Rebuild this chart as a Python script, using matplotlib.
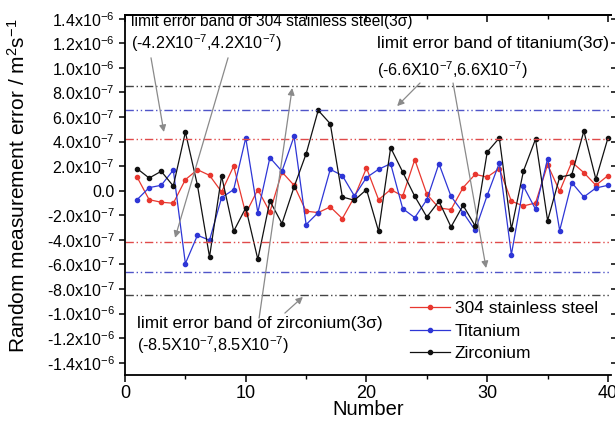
import numpy as np
import matplotlib
matplotlib.use('Agg')
import matplotlib.pyplot as plt
from matplotlib.ticker import FixedLocator, MultipleLocator, FuncFormatter, NullFormatter

plt.rcParams['font.family'] = ['Liberation Sans', 'DejaVu Sans']
plt.rcParams['mathtext.default'] = 'regular'

number = np.arange(1, 41)

# random errors, in units of 1e-7 m^2/s
steel_304 = [1.11, -0.73, -0.94, -1.02, 0.90, 1.71, 1.25, -0.10, 2.00, -1.86,
             0.09, -1.73, 1.52, 0.44, -1.67, -1.78, -1.32, -2.27, -0.51, 1.85,
             -0.73, 0.09, -0.43, 2.53, -0.29, -1.40, -1.54, 0.25, 1.33, 1.11,
             1.80, -0.86, -1.24, -1.00, 2.12, -0.05, 2.33, 1.47, 0.44, 1.23]
titanium = [-0.73, 0.25, 0.44, 1.68, -5.93, -3.63, -4.03, -0.56, 0.09, 4.29,
            -1.78, 2.69, 1.58, 4.42, -2.76, -1.78, 1.74, 1.23, -0.43, 1.07,
            1.74, 2.20, -1.46, -2.19, -0.73, 2.20, -0.46, -1.78, -3.22, -0.37,
            2.25, -5.20, 0.36, -1.51, 2.61, -3.24, 0.66, -0.51, 0.22, 0.44]
zirconium = [1.80, 1.03, 1.58, 0.38, 4.77, 0.44, -5.39, 1.20, -3.30, -1.40,
             -5.58, -0.83, -2.68, 0.30, 3.00, 6.54, 5.45, -0.51, -0.78, 0.09,
             -3.30, 3.50, 1.52, -0.46, -2.14, -0.86, -2.95, -1.19, -2.87, 3.15,
             4.29, -3.14, 1.60, 4.20, -2.43, 1.11, 1.30, 4.85, 0.93, 4.30]

# 3 sigma limit bands, 1e-7
band_304 = 4.2
band_ti = 6.6
band_zr = 8.5

labels = ['304 stainless steel', 'Titanium', 'Zirconium']
colors = ['#e8372f', '#2e36d6', '#111111']
band_colors = ['#e04a4a', '#5055c8', '#444444']

y_ticks = np.round(np.arange(-1.4, 1.41, 0.2), 1)


def fmt_tick(v, pos):
    if abs(v) < 1e-12:
        return '0.0'
    if abs(v) >= 0.999e-6:
        return '%.1fx10$^{-6}$' % (v / 1e-6)
    return '%.1fx10$^{-7}$' % (v / 1e-7)


fig = plt.figure(figsize=(6.15, 4.23), dpi=100)
ax = fig.add_axes([125 / 615, 48 / 423, 486 / 615, 360 / 423])

series = [steel_304, titanium, zirconium]
for vals, lab, c in zip(series, labels, colors):
    ax.plot(number, np.array(vals) * 1e-7, '-o', color=c, lw=0.9, ms=3,
            label=lab)

dash = (0, (6, 2, 1, 2, 1, 2))
for b, c in zip([band_304, band_ti, band_zr], band_colors):
    ax.axhline(b * 1e-7, color=c, lw=1.0, ls=dash)
    ax.axhline(-b * 1e-7, color=c, lw=1.0, ls=dash)

ax.set_xlim(0, 40.25)
ax.set_ylim(-1.5e-6, 1.43e-6)
ax.xaxis.set_major_locator(MultipleLocator(10))
ax.xaxis.set_minor_locator(MultipleLocator(5))
ax.yaxis.set_major_locator(FixedLocator(y_ticks * 1e-6))
ax.yaxis.set_major_formatter(FuncFormatter(fmt_tick))

ax.spines['right'].set_visible(False)
for s in ['left', 'bottom', 'top']:
    ax.spines[s].set_linewidth(1.3)
ax.tick_params(axis='both', which='major', direction='out', length=5,
               width=1.1)
ax.tick_params(axis='x', which='minor', direction='out', length=3, width=1.0)
ax.tick_params(axis='x', which='major', labelsize=13, pad=2)
ax.tick_params(axis='y', which='major', labelsize=11.5, right=True,
               length=4)

# mirrored ticks on top, pointing inwards
secx = ax.secondary_xaxis('top')
secx.xaxis.set_major_locator(MultipleLocator(10))
secx.xaxis.set_minor_locator(MultipleLocator(5))
secx.xaxis.set_major_formatter(NullFormatter())
secx.tick_params(which='major', direction='in', length=5, width=1.1)
secx.tick_params(which='minor', direction='in', length=3, width=1.0)
secx.spines['top'].set_linewidth(1.3)

ax.set_xlabel('Number', fontsize=14.5, labelpad=-1)
ax.set_ylabel('Random measurement error / m$^2$s$^{-1}$', fontsize=15)
ax.yaxis.set_label_coords(-0.197, 0.525)

# annotation texts (axes fraction)
ax.text(0.012, 0.983, 'limit error band of 304 stainless steel(3\u03c3)',
        transform=ax.transAxes, fontsize=11.2, va='center', ha='left')
ax.text(0.012, 0.922, '(-4.2X10$^{-7}$,4.2X10$^{-7}$)',
        transform=ax.transAxes, fontsize=11.6, va='center', ha='left')
ax.text(0.518, 0.922, 'limit error band of titanium(3\u03c3)',
        transform=ax.transAxes, fontsize=12.4, va='center', ha='left')
ax.text(0.518, 0.847, '(-6.6X10$^{-7}$,6.6X10$^{-7}$)',
        transform=ax.transAxes, fontsize=11.6, va='center', ha='left')
ax.text(0.025, 0.144, 'limit error band of zirconium(3\u03c3)',
        transform=ax.transAxes, fontsize=12.4, va='center', ha='left')
ax.text(0.025, 0.083, '(-8.5X10$^{-7}$,8.5X10$^{-7}$)',
        transform=ax.transAxes, fontsize=11.7, va='center', ha='left')

arrows = [((0.0535, 0.881), (0.080, 0.675)),
          ((0.212, 0.881), (0.103, 0.381)),
          ((0.607, 0.811), (0.560, 0.747)),
          ((0.675, 0.811), (0.743, 0.297)),
          ((0.276, 0.158), (0.344, 0.797)),
          ((0.329, 0.172), (0.366, 0.217))]
for start, end in arrows:
    ax.annotate('', xy=end, xytext=start, xycoords='axes fraction',
                textcoords='axes fraction',
                arrowprops=dict(arrowstyle='-|>', color='#8a8a8a', lw=0.9,
                                mutation_scale=10, shrinkA=0, shrinkB=0))

ax.legend(loc='upper left', bbox_to_anchor=(0.586, 0.205), frameon=False,
          fontsize=12.5, handlelength=2.3, handletextpad=0.3,
          labelspacing=0.42, borderpad=0, borderaxespad=0)

fig.savefig('out.png', dpi=100)
